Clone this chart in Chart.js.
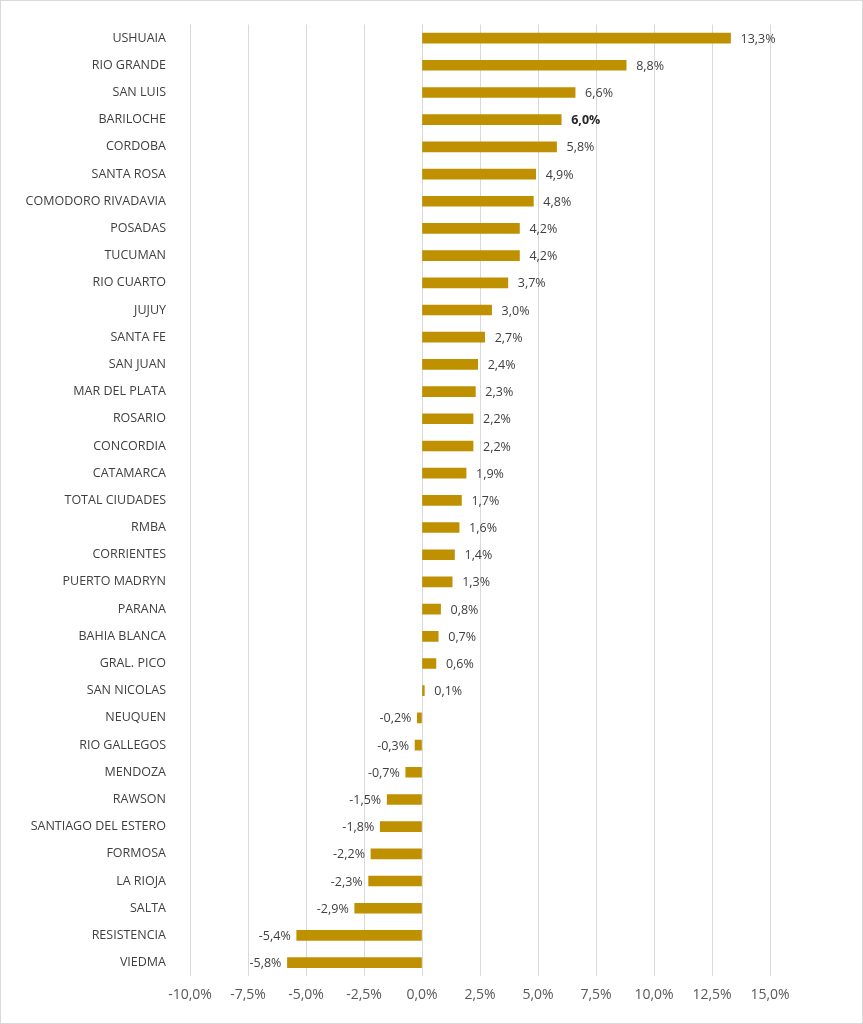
<!DOCTYPE html>
<html><head><meta charset="utf-8">
<script src="https://cdn.jsdelivr.net/npm/chart.js@4"></script>
<style>html,body{margin:0;padding:0;background:#fff}#w{position:relative;width:861px;height:1022px;border:1px solid #d9d9d9}</style>
</head><body><div id="w"><canvas id="c"></canvas></div>
<script>
const categories=["USHUAIA","RIO GRANDE","SAN LUIS","BARILOCHE","CORDOBA","SANTA ROSA","COMODORO RIVADAVIA","POSADAS","TUCUMAN","RIO CUARTO","JUJUY","SANTA FE","SAN JUAN","MAR DEL PLATA","ROSARIO","CONCORDIA","CATAMARCA","TOTAL CIUDADES","RMBA","CORRIENTES","PUERTO MADRYN","PARANA","BAHIA BLANCA","GRAL. PICO","SAN NICOLAS","NEUQUEN","RIO GALLEGOS","MENDOZA","RAWSON","SANTIAGO DEL ESTERO","FORMOSA","LA RIOJA","SALTA","RESISTENCIA","VIEDMA"];
const values=[13.3,8.8,6.6,6.0,5.8,4.9,4.8,4.2,4.2,3.7,3.0,2.7,2.4,2.3,2.2,2.2,1.9,1.7,1.6,1.4,1.3,0.8,0.7,0.6,0.1,-0.2,-0.3,-0.7,-1.5,-1.8,-2.2,-2.3,-2.9,-5.4,-5.8];
const boldLabel="BARILOCHE";
const fmt=v=>v.toFixed(1).replace('.',',')+'%';
const labelsPlugin={id:'lbl',afterDatasetsDraw(ch){const ctx=ch.ctx;const meta=ch.getDatasetMeta(0);ctx.save();ctx.textBaseline='middle';
meta.data.forEach((b,i)=>{const v=values[i];ctx.font=(categories[i]===boldLabel?'bold ':'')+'12.5px "Open Sans", Arial, sans-serif';ctx.fillStyle=categories[i]===boldLabel?'#262626':'#404040';
if(v>=0){ctx.textAlign='left';ctx.fillText(fmt(v),b.x+10,b.y+1);}else{ctx.textAlign='right';ctx.fillText(fmt(v),b.x-6,b.y+1);}});ctx.restore();}};
new Chart(document.getElementById('c'),{type:'bar',data:{labels:categories,datasets:[{data:values,backgroundColor:'#BF9000',barThickness:10}]},
options:{indexAxis:'y',responsive:true,maintainAspectRatio:false,animation:false,devicePixelRatio:1,
layout:{padding:{left:0,right:92,top:20,bottom:10}},
plugins:{legend:{display:false},tooltip:{enabled:false}},
scales:{x:{min:-10,max:15,ticks:{stepSize:2.5,callback:v=>fmt(v),color:'#595959',font:{size:14,family:'"Open Sans", Arial, sans-serif'},padding:10},grid:{color:'#d9d9d9',drawTicks:false},border:{display:false}},
y:{afterFit:s=>{s.width=189},ticks:{color:'#404040',font:{size:12.5,family:'"Open Sans", Arial, sans-serif'},padding:16,autoSkip:false},grid:{display:false},border:{display:false}}}},
plugins:[labelsPlugin]});
</script></body></html>
